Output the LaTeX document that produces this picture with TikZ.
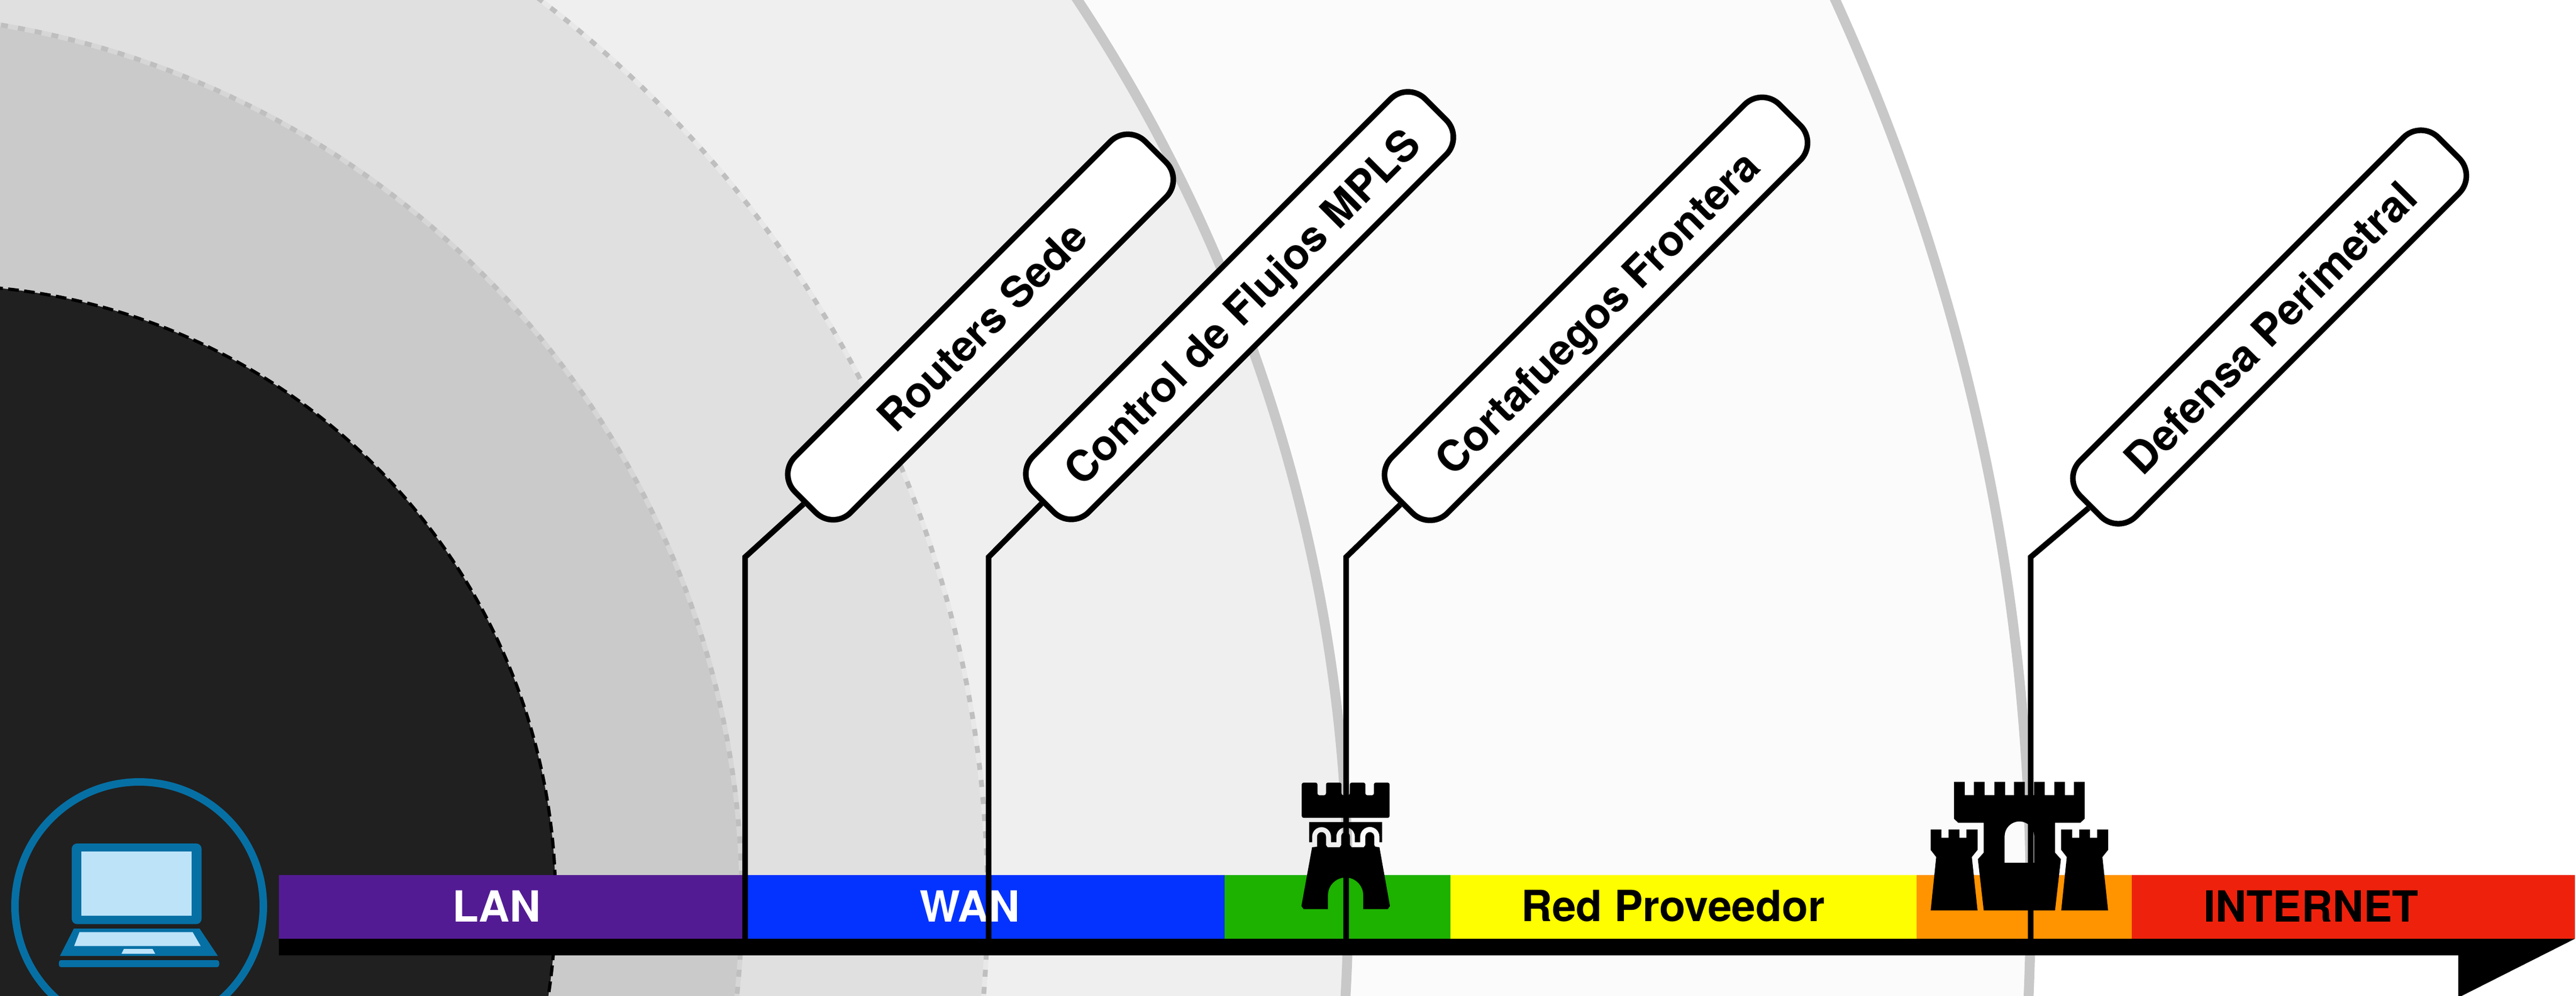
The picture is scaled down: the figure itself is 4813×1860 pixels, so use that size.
\documentclass[tikz,border=0pt]{standalone}
\usepackage{fontspec}
\setmainfont{TeX Gyre Heros}
\definecolor{cdark}{HTML}{202020}
\definecolor{cA}{HTML}{CACACA}
\definecolor{cB}{HTML}{E0E0E0}
\definecolor{cC}{HTML}{EFEFEF}
\definecolor{cD}{HTML}{FBFBFB}
\definecolor{cring}{HTML}{C8C8C8}
\definecolor{cdash}{HTML}{BFBFBF}
\definecolor{cunderA}{HTML}{D6D6D6}
\definecolor{cunderB}{HTML}{E8E8E8}
\definecolor{cpurple}{HTML}{531B93}
\definecolor{cblue}{HTML}{0433FF}
\definecolor{cgreen}{HTML}{1DB100}
\definecolor{cyellow}{HTML}{FFFE00}
\definecolor{corange}{HTML}{FF9300}
\definecolor{cred}{HTML}{EE220C}
\definecolor{clapblue}{HTML}{0670A5}
\definecolor{clapscreen}{HTML}{BDE3F9}
\tikzset{
  seglabel/.style={font=\fontsize{22.8}{27}\selectfont\bfseries,inner sep=0pt,anchor=center},
  callout/.style={draw=black,fill=white,line width=0.105cm,rounded corners=0.46cm,rotate=45,
    minimum height=1.47cm,inner sep=0pt,font=\fontsize{22.7}{27}\selectfont\bfseries},
  basedrop/.style={text height=#1,text depth=0pt},
  leader/.style={draw=black,line width=0.105cm,line join=miter},
  ringdash/.style={line width=0.09cm,dash pattern=on 0.13cm off 0.19cm},
  ringsolid/.style={draw=cring,line width=0.185cm},
  zoomed/.style={x=0.0033333cm,y=-0.0033333cm}
}
\begin{document}
\begin{tikzpicture}[x=0.01cm,y=-0.01cm]
\useasboundingbox (0,0) rectangle (4813,1860);
\clip (0,0) rectangle (4813,1860);
\fill[white] (0,0) rectangle (4813,1860);
% rings
\filldraw[fill=cD,ringsolid] (-263,1684) circle (4057);
\filldraw[fill=cC,ringsolid] (-536,1684) circle (3055);
\filldraw[fill=cB,draw=cunderB,line width=0.09cm] (-270,1684) circle (2115);
\draw[cdash,ringdash] (-270,1684) circle (2115);
\filldraw[fill=cA,draw=cunderA,line width=0.09cm] (-274,1684) circle (1660);
\draw[cdash,ringdash] (-274,1684) circle (1660);
\filldraw[fill=cdark,draw=black,line width=0.06cm,dash pattern=on 0.2cm off 0.1cm] (-113,1684) circle (1151);
% laptop
\draw[clapblue,line width=0.14cm] (260,1693) circle (232);
\fill[clapblue,rounded corners=0.1cm] (134,1576) rectangle (376.6,1726.7);
\fill[clapscreen] (152,1590.7) rectangle (358,1710.7);
\fill[clapblue] (138,1735) -- (373,1735) -- (407,1786) -- (112,1786) -- cycle;
\fill[clapscreen] (148.5,1741.7) -- (360,1741.7) -- (375,1767.7) -- (138.5,1767.7) -- cycle;
\fill[clapscreen] (231.5,1773) -- (285,1773) -- (290,1782) -- (227,1782) -- cycle;
\fill[clapblue,rounded corners=0.04cm] (110,1794) rectangle (409.5,1807);
% bar
\fill[black] (521,1754) -- (4811,1754) -- (4593,1864) -- (4593,1785) -- (521,1785) -- cycle;
\fill[cpurple] (521,1635) rectangle (1392,1754);
\fill[cblue] (1392,1635) rectangle (2287.5,1754);
\fill[cgreen] (2287.5,1635) rectangle (2710,1754);
\fill[cyellow] (2710,1635) rectangle (3581,1754);
\fill[corange] (3581,1635) rectangle (3983,1754);
\fill[cred] (3983,1635) rectangle (4811,1754);
\node[seglabel,text=white] (lan) at (928,1693) {LAN};
\node[seglabel,text=white] (wan) at (1812,1693) {WAN};
\node[seglabel,text=black] (prov) at (3126,1693) {Red Proveedor};
\node[seglabel,text=black] (inet) at (4318,1693) {INTERNET};
% small tower
\begin{scope}[shift={(2350,1400)},zoomed]
\fill[black,rounded corners=0.035cm] (247,187) -- (335,187) -- (335,258) -- (383,258) -- (383,187) -- (470,187) -- (470,258) -- (517,258) -- (517,187) -- (604,187) -- (604,258) -- (652,258) -- (652,187) -- (740,187) -- (740,385) -- (247,385) -- cycle;
\fill[black] (289,409) -- (698,409) -- (698,522) -- (683,522) -- (683,490) arc (0:-180:54) -- (575,522) -- (545,522) -- (545,490) arc (0:-180:52) -- (441,522) -- (411,522) -- (411,490) arc (0:-180:53) -- (305,522) -- (289,522) -- cycle;
\fill[black] (305,550) -- (333,547) -- (333,490) arc (180:360:25) -- (383,538) -- (392,550) -- (460,550) -- (468,538) -- (468,490) arc (180:360:25) -- (518,538) -- (527,550) -- (595,550) -- (604,538) -- (604,490) arc (180:360:25) -- (654,538) -- (660,547) -- (683,550) -- (742,880) -- (730,897) -- (592,897) -- (592,819) arc (0:-180:99) -- (394,897) -- (257,897) -- (245,880) -- cycle;
\end{scope}
% castle
\begin{scope}[shift={(3550,1400)},zoomed]
\fill[black,even odd rule] (303,183) -- (363,183) -- (363,257) -- (415,257) -- (415,183) -- (475,183) -- (475,257) -- (530,257) -- (530,183) -- (590,183) -- (590,257) -- (640,257) -- (640,183) -- (700,183) -- (700,257) -- (752,257) -- (752,183) -- (812,183) -- (812,257) -- (866,257) -- (866,183) -- (926,183) -- (926,257) -- (976,257) -- (976,183) -- (1036,183) -- (1036,390) -- (1012,413) -- (870,413) -- (870,580) -- (903,617) -- (870,905) -- (470,905) -- (437,617) -- (470,580) -- (470,413) -- (327,413) -- (303,390) -- cycle
 (587,637) -- (587,488) arc (180:360:83) -- (753,637) -- cycle;
\fill[black] (172,450) -- (232,450) -- (232,497) -- (272,497) -- (272,450) -- (333,450) -- (333,497) -- (373,497) -- (373,450) -- (435,450) -- (435,565) -- (403,605) -- (435,905) -- (172,905) -- (203,605) -- (172,565) -- cycle;
\fill[black] (905,450) -- (966,450) -- (966,497) -- (1006,497) -- (1006,450) -- (1066,450) -- (1066,497) -- (1107,497) -- (1107,450) -- (1168,450) -- (1168,565) -- (1136,605) -- (1168,905) -- (905,905) -- (936,605) -- (905,565) -- cycle;
\end{scope}
% callouts
\node[callout,basedrop=0.60cm,minimum width=9.25cm] (routers) at (1832,611) {\hspace*{0.06cm}Routers Sede};
\node[callout,basedrop=0.66cm,minimum width=10.36cm] (control) at (2316,571) {\hspace*{0.03cm}Control de Flujos MPLS};
\node[callout,basedrop=0.70cm,minimum width=10.24cm] (corta) at (2982,577) {\hspace*{-0.07cm}Cortafuegos Frontera};
\node[callout,basedrop=0.62cm,minimum width=9.46cm,font=\fontsize{23}{27}\selectfont\bfseries] (defensa) at (4240.5,611) {Defensa Perimetral};
\coordinate (e1) at (1392,1041);
\coordinate (e2) at (1847,1041);
\coordinate (e3) at (2515,1041);
\coordinate (e4) at (3794,1041);
\coordinate (b1) at (1392,1760);
\coordinate (b2) at (1847,1760);
\coordinate (b3) at (2515,1760);
\coordinate (b4) at (3794,1760);
\draw[leader] (b1) -- (e1) -- (routers.west);
\draw[leader] (b2) -- (e2) -- (control.west);
\draw[leader] (b3) -- (e3) -- (corta.west);
\draw[leader] (b4) -- (e4) -- (defensa.west);
\end{tikzpicture}
\end{document}
